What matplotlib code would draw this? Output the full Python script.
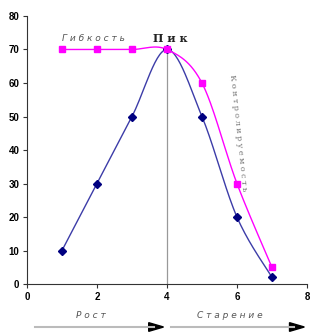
import numpy as np
import matplotlib
matplotlib.use("Agg")
import matplotlib.pyplot as plt
from matplotlib.lines import Line2D
from matplotlib.patches import Polygon

x_vals = [1, 2, 3, 4, 5, 6, 7]
blue_vals = [10, 30, 50, 70, 50, 20, 2]
pink_vals = [70, 70, 70, 70, 60, 30, 5]
x_ticks = [0, 2, 4, 6, 8]
y_ticks = [0, 10, 20, 30, 40, 50, 60, 70, 80]
peak_x = 4
peak_y = 70

def smooth(xs, ys, sx=35.0, sy=3.35, n=30):
    xs = np.asarray(xs, float) * sx
    ys = np.asarray(ys, float) * sy
    P = np.column_stack([xs, ys])
    out = []
    for i in range(len(P) - 1):
        p0 = P[i - 1] if i > 0 else P[i]
        p1 = P[i]
        p2 = P[i + 1]
        p3 = P[i + 2] if i + 2 < len(P) else P[i + 1]
        c1 = p1 + (p2 - p0) / 6.0
        c2 = p2 - (p3 - p1) / 6.0
        t = np.linspace(0, 1, n)[:, None]
        seg = ((1 - t) ** 3) * p1 + 3 * ((1 - t) ** 2) * t * c1 + 3 * (1 - t) * t ** 2 * c2 + t ** 3 * p2
        out.append(seg if i == 0 else seg[1:])
    S = np.vstack(out)
    return S[:, 0] / sx, S[:, 1] / sy

fig = plt.figure(figsize=(3.29, 3.33), dpi=100)
ax = fig.add_axes([0.082, 0.147, 0.851, 0.805])

ax.plot([peak_x, peak_x], [0, peak_y], color="#999999", lw=0.9, zorder=1)

bx, by = smooth(x_vals, blue_vals)
ax.plot(bx, by, color="#3C3CA8", lw=1.0, zorder=2)
ax.plot(x_vals, blue_vals, linestyle="none", marker="D", ms=3.6, color="#000080", zorder=3)

px, py = smooth(x_vals, pink_vals)
ax.plot(px, py, color="#FF00FF", lw=1.0, zorder=2)
ax.plot(x_vals, pink_vals, linestyle="none", marker="s", ms=5, color="#FF00FF", zorder=3)

ax.set_xlim(0, 8)
ax.set_ylim(0, 80)
ax.set_xticks(x_ticks)
ax.set_yticks(y_ticks)
for lab in ax.get_xticklabels() + ax.get_yticklabels():
    lab.set_fontweight("bold")
    lab.set_fontsize(7)
    lab.set_family("Liberation Sans")
ax.tick_params(direction="out", length=3, width=0.8, color="#333333", pad=2.5)
ax.spines["top"].set_visible(False)
ax.spines["right"].set_visible(False)
ax.spines["left"].set_color("#333333")
ax.spines["bottom"].set_color("#333333")

def spaced(s, sep=" "):
    return sep.join(list(s))

ax.text(1.9, 71.8, spaced("Гибкость"), fontsize=6.5, style="italic", color="#555555",
        family="DejaVu Sans", ha="center", va="bottom")
ax.text(4.1, 71.6, spaced("Пик"), fontsize=8, color="#222222", family="DejaVu Serif",
        fontweight="bold", ha="center", va="bottom")
ax.text(6.03, 45, spaced("Контролируемость"), fontsize=5.8, color="#777777",
        family="DejaVu Serif", rotation=-84, ha="center", va="center", rotation_mode="anchor")

fig.text(0.275, 0.052, spaced("Рост"), fontsize=6.5, style="italic", color="#555555",
         family="DejaVu Sans", ha="center", va="center")
fig.text(0.70, 0.052, spaced("Старение"), fontsize=6.5, style="italic", color="#555555",
         family="DejaVu Sans", ha="center", va="center")

def arrow(x0, x1, y):
    fig.add_artist(Line2D([x0, x1 - 0.03], [y, y], transform=fig.transFigure, color="#BBBBBB", lw=1.5))
    fig.add_artist(Polygon([[x1 - 0.045, y + 0.013], [x1, y], [x1 - 0.045, y - 0.013]],
                           closed=True, transform=fig.transFigure, color="black"))

arrow(0.105, 0.497, 0.018)
arrow(0.52, 0.925, 0.018)

fig.savefig("out.png", dpi=100)
